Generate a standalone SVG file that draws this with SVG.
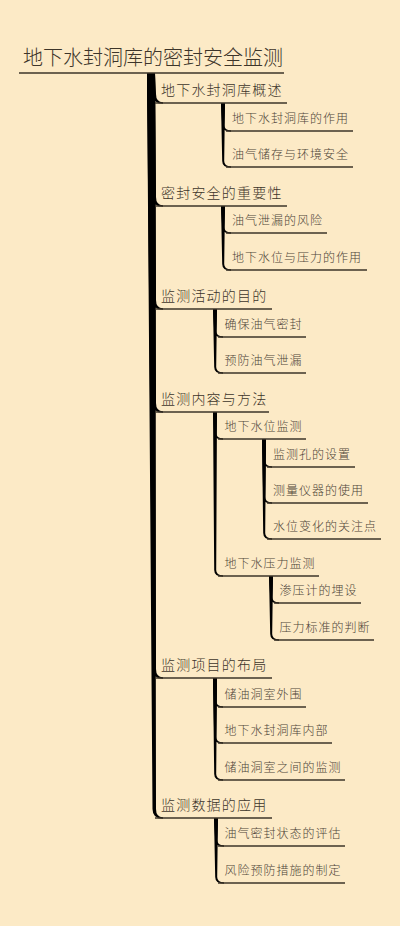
<svg xmlns="http://www.w3.org/2000/svg" width="400" height="926" viewBox="0 0 400 926">
<style>
text{font-family:"Noto Sans CJK SC","Noto Sans",sans-serif;font-weight:300;}
.root{font-size:20px;fill:#3d352a;}
.l1{font-size:14px;letter-spacing:1.2px;fill:#3d352a;}
.l2{font-size:12px;letter-spacing:1px;fill:#4e4538;}
.ul{stroke:#3d3428;stroke-width:1.3;fill:none;}
.c{fill:#000;}
</style>
<rect width="400" height="926" fill="#FCEAC6"/>
<g id="connectors">
<path class="c" d="M147,73 L152.5,94 Q152.5,103.8 163,103.8 L163,102.2 Q156,102.2 156,94 L155,73Z"/>
<path class="c" d="M147,73 L152.5,197 Q152.5,206.8 163,206.8 L163,205.2 Q156,205.2 156,197 L155,73Z"/>
<path class="c" d="M147,73 L152.5,300 Q152.5,309.8 163,309.8 L163,308.2 Q156,308.2 156,300 L155,73Z"/>
<path class="c" d="M147,73 L152.5,403 Q152.5,412.8 163,412.8 L163,411.2 Q156,411.2 156,403 L155,73Z"/>
<path class="c" d="M147,73 L152.5,669 Q152.5,678.8 163,678.8 L163,677.2 Q156,677.2 156,669 L155,73Z"/>
<path class="c" d="M147,73 L152.5,809 Q152.5,818.8 163,818.8 L163,817.2 Q156,817.2 156,809 L155,73Z"/>
<path class="c" d="M221,103 L222.2,125 Q222.2,131.7 231,131.7 L231,130.3 Q224.2,130.3 224.2,125 L225,103Z"/>
<path class="c" d="M221,103 L222.2,161 Q222.2,167.7 231,167.7 L231,166.3 Q224.2,166.3 224.2,161 L225,103Z"/>
<path class="c" d="M221,206 L222.2,227 Q222.2,233.7 231,233.7 L231,232.3 Q224.2,232.3 224.2,227 L225,206Z"/>
<path class="c" d="M221,206 L222.2,264 Q222.2,270.7 231,270.7 L231,269.3 Q224.2,269.3 224.2,264 L225,206Z"/>
<path class="c" d="M213,309 L214.2,331 Q214.2,337.7 223,337.7 L223,336.3 Q216.2,336.3 216.2,331 L217,309Z"/>
<path class="c" d="M213,309 L214.2,367 Q214.2,373.7 223,373.7 L223,372.3 Q216.2,372.3 216.2,367 L217,309Z"/>
<path class="c" d="M213,412 L214.2,433 Q214.2,439.7 223,439.7 L223,438.3 Q216.2,438.3 216.2,433 L217,412Z"/>
<path class="c" d="M213,412 L214.2,570 Q214.2,576.7 223,576.7 L223,575.3 Q216.2,575.3 216.2,570 L217,412Z"/>
<path class="c" d="M262,439 L263.2,461 Q263.2,467.7 272,467.7 L272,466.3 Q265.2,466.3 265.2,461 L266,439Z"/>
<path class="c" d="M262,439 L263.2,497 Q263.2,503.7 272,503.7 L272,502.3 Q265.2,502.3 265.2,497 L266,439Z"/>
<path class="c" d="M262,439 L263.2,533 Q263.2,539.7 272,539.7 L272,538.3 Q265.2,538.3 265.2,533 L266,439Z"/>
<path class="c" d="M269,576 L270.2,597 Q270.2,603.7 279,603.7 L279,602.3 Q272.2,602.3 272.2,597 L273,576Z"/>
<path class="c" d="M269,576 L270.2,634 Q270.2,640.7 279,640.7 L279,639.3 Q272.2,639.3 272.2,634 L273,576Z"/>
<path class="c" d="M213,678 L214.2,701 Q214.2,707.7 223,707.7 L223,706.3 Q216.2,706.3 216.2,701 L217,678Z"/>
<path class="c" d="M213,678 L214.2,737 Q214.2,743.7 223,743.7 L223,742.3 Q216.2,742.3 216.2,737 L217,678Z"/>
<path class="c" d="M213,678 L214.2,774 Q214.2,780.7 223,780.7 L223,779.3 Q216.2,779.3 216.2,774 L217,678Z"/>
<path class="c" d="M214,818 L215.2,840 Q215.2,846.7 224,846.7 L224,845.3 Q217.2,845.3 217.2,840 L218,818Z"/>
<path class="c" d="M214,818 L215.2,877 Q215.2,883.7 224,883.7 L224,882.3 Q217.2,882.3 217.2,877 L218,818Z"/>
</g>
<g id="root"><text class="root" x="23" y="64.5">地下水封洞库的密封安全监测</text><line class="ul" x1="19" y1="73" x2="284" y2="73"/></g>
<g id="n1"><text class="l1" x="161" y="95">地下水封洞库概述</text><line class="ul" x1="155" y1="103" x2="287" y2="103"/></g>
<g id="n1a"><text class="l2" x="232" y="122.5">地下水封洞库的作用</text><line class="ul" x1="226" y1="131" x2="353" y2="131"/></g>
<g id="n1b"><text class="l2" x="232" y="158.5">油气储存与环境安全</text><line class="ul" x1="226" y1="167" x2="353" y2="167"/></g>
<g id="n2"><text class="l1" x="161" y="198">密封安全的重要性</text><line class="ul" x1="155" y1="206" x2="287" y2="206"/></g>
<g id="n2a"><text class="l2" x="232" y="224.5">油气泄漏的风险</text><line class="ul" x1="226" y1="233" x2="327" y2="233"/></g>
<g id="n2b"><text class="l2" x="232" y="261.5">地下水位与压力的作用</text><line class="ul" x1="226" y1="270" x2="367" y2="270"/></g>
<g id="n3"><text class="l1" x="161" y="301">监测活动的目的</text><line class="ul" x1="155" y1="309" x2="272" y2="309"/></g>
<g id="n3a"><text class="l2" x="224.5" y="328.5">确保油气密封</text><line class="ul" x1="218" y1="337" x2="306" y2="337"/></g>
<g id="n3b"><text class="l2" x="224.5" y="364.5">预防油气泄漏</text><line class="ul" x1="218" y1="373" x2="306" y2="373"/></g>
<g id="n4"><text class="l1" x="161" y="404">监测内容与方法</text><line class="ul" x1="155" y1="412" x2="269" y2="412"/></g>
<g id="n4a"><text class="l2" x="224.5" y="430.5">地下水位监测</text><line class="ul" x1="218" y1="439" x2="306" y2="439"/></g>
<g id="n4a1"><text class="l2" x="273" y="458.5">监测孔的设置</text><line class="ul" x1="267" y1="467" x2="355" y2="467"/></g>
<g id="n4a2"><text class="l2" x="273" y="494.5">测量仪器的使用</text><line class="ul" x1="267" y1="503" x2="368" y2="503"/></g>
<g id="n4a3"><text class="l2" x="273" y="530.5">水位变化的关注点</text><line class="ul" x1="267" y1="539" x2="381" y2="539"/></g>
<g id="n4b"><text class="l2" x="224.5" y="567.5">地下水压力监测</text><line class="ul" x1="218" y1="576" x2="319" y2="576"/></g>
<g id="n4b1"><text class="l2" x="279.5" y="594.5">渗压计的埋设</text><line class="ul" x1="274" y1="603" x2="361" y2="603"/></g>
<g id="n4b2"><text class="l2" x="279.5" y="631.5">压力标准的判断</text><line class="ul" x1="274" y1="640" x2="374" y2="640"/></g>
<g id="n5"><text class="l1" x="161" y="670">监测项目的布局</text><line class="ul" x1="155" y1="678" x2="272" y2="678"/></g>
<g id="n5a"><text class="l2" x="224.5" y="698.5">储油洞室外围</text><line class="ul" x1="218" y1="707" x2="306" y2="707"/></g>
<g id="n5b"><text class="l2" x="224.5" y="734.5">地下水封洞库内部</text><line class="ul" x1="218" y1="743" x2="332" y2="743"/></g>
<g id="n5c"><text class="l2" x="224.5" y="771.5">储油洞室之间的监测</text><line class="ul" x1="218" y1="780" x2="345" y2="780"/></g>
<g id="n6"><text class="l1" x="161" y="810">监测数据的应用</text><line class="ul" x1="155" y1="818" x2="272" y2="818"/></g>
<g id="n6a"><text class="l2" x="224.5" y="837.5">油气密封状态的评估</text><line class="ul" x1="218" y1="846" x2="345" y2="846"/></g>
<g id="n6b"><text class="l2" x="224.5" y="874.5">风险预防措施的制定</text><line class="ul" x1="218" y1="883" x2="345" y2="883"/></g>
</svg>
